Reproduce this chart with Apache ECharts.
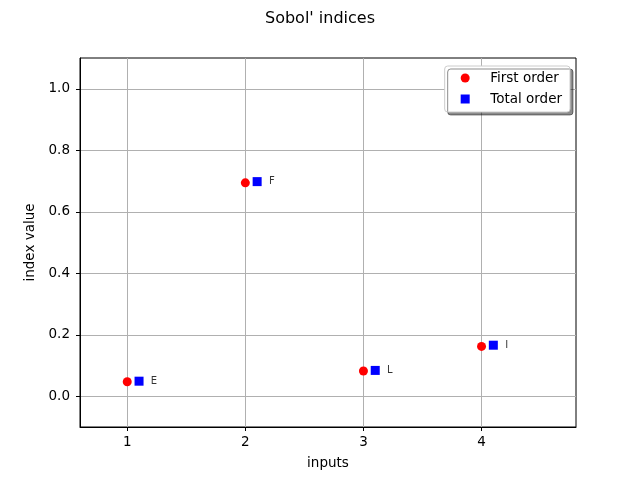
<!DOCTYPE html>
<html><head><meta charset="utf-8">
<script src="https://cdn.jsdelivr.net/npm/echarts@6/dist/echarts.min.js"></script>
<style>html,body{margin:0;padding:0;background:#fff}#c{width:640px;height:480px}</style>
</head><body><div id="c"></div>
<script>
const inputs = ['E', 'F', 'L', 'I'];
const positions = [1, 2, 3, 4];
const firstOrder = [0.047, 0.694, 0.082, 0.162];
const totalOrder = [0.049, 0.698, 0.084, 0.166];
const xTicks = [1, 2, 3, 4];
const yTicks = [0.0, 0.2, 0.4, 0.6, 0.8, 1.0];
const xOffsetTotal = 0.1;
const xOffsetLabel = 0.2;

const font = 'DejaVu Sans';
const squarePath = 'path://M0,0L10,0L10,10L0,10Z';
const chart = echarts.init(document.getElementById('c'), null, {renderer: 'canvas'});
chart.setOption({
  animation: false,
  textStyle: {fontFamily: font},
  title: {
    text: "Sobol' indices", left: 'center', top: 6,
    textStyle: {fontFamily: font, fontSize: 16, fontWeight: 'normal', color: '#000'}
  },
  grid: {left: 80, right: 64, top: 58, bottom: 53, show: true, borderColor: '#000', borderWidth: 1, backgroundColor: 'transparent'},
  legend: {
    data: [{name: 'First order', icon: 'circle'}, {name: 'Total order', icon: squarePath}],
    orient: 'vertical', right: 70, top: 66,
    itemWidth: 30, itemHeight: 9, itemGap: 7,
    symbolKeepAspect: true,
    padding: [5, 8, 6, 16],
    backgroundColor: '#fff', borderColor: '#ccc', borderWidth: 1, borderRadius: 3,
    shadowColor: 'rgba(0,0,0,0.45)', shadowOffsetX: 3, shadowOffsetY: 3, shadowBlur: 0,
    textStyle: {fontFamily: font, fontSize: 13.5, color: '#000', padding: [0, 0, 0, 5]}
  },
  xAxis: {
    type: 'value', min: 0.6, max: 4.8,
    name: 'inputs', nameLocation: 'middle', nameGap: 29,
    nameTextStyle: {fontFamily: font, fontSize: 13.5, color: '#000'},
    axisLine: {show: true, onZero: false, lineStyle: {color: '#000'}},
    axisTick: {show: true, length: 4, lineStyle: {color: '#000'}, customValues: xTicks},
    axisLabel: {color: '#000', fontSize: 13.5, fontFamily: font, margin: 8, customValues: xTicks, formatter: v => String(v)},
    splitLine: {show: true, lineStyle: {color: '#b0b0b0', width: 1}}
  },
  yAxis: {
    type: 'value', min: -0.1, max: 1.1,
    name: 'index value', nameLocation: 'middle', nameGap: 38,
    nameTextStyle: {fontFamily: font, fontSize: 13.5, color: '#000'},
    axisLine: {show: true, onZero: false, lineStyle: {color: '#000'}},
    axisTick: {show: true, length: 4, lineStyle: {color: '#000'}, customValues: yTicks},
    axisLabel: {color: '#000', fontSize: 13.5, fontFamily: font, margin: 10, customValues: yTicks, formatter: v => v.toFixed(1)},
    splitLine: {show: true, lineStyle: {color: '#b0b0b0', width: 1}}
  },
  series: [
    {
      name: 'First order', type: 'scatter', symbol: 'circle', symbolSize: 9,
      itemStyle: {color: '#ff0000', opacity: 1},
      data: positions.map((p, i) => [p, firstOrder[i]])
    },
    {
      name: 'Total order', type: 'scatter', symbol: 'rect', symbolSize: 9,
      itemStyle: {color: '#0000ff', opacity: 1},
      data: positions.map((p, i) => [p + xOffsetTotal, totalOrder[i]])
    },
    {
      name: 'labels', type: 'scatter', symbolSize: 0, silent: true,
      data: positions.map((p, i) => ({value: [p + xOffsetLabel, totalOrder[i]], name: inputs[i]})),
      label: {show: true, position: 'right', distance: 0, formatter: '{b}', color: '#000', fontSize: 10, fontFamily: font}
    }
  ]
});
</script></body></html>
